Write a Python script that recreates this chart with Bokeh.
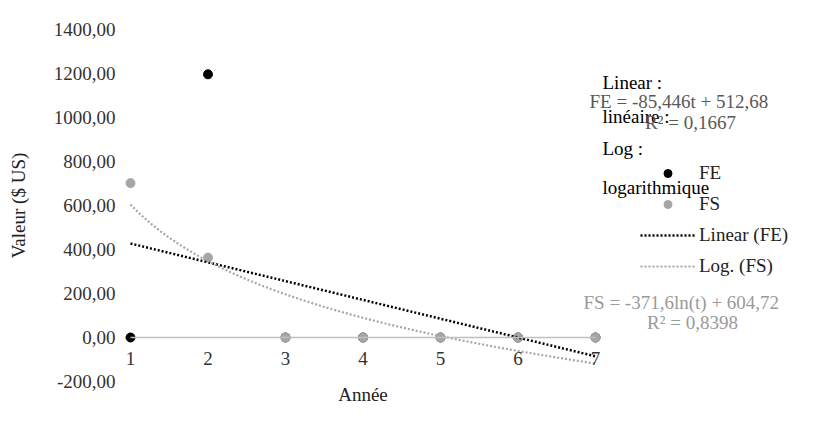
import numpy as np
from bokeh.plotting import figure
from bokeh.models import Label, Legend, LegendItem, FixedTicker, Range1d
from bokeh.embed import file_html
from bokeh.resources import INLINE

# ---- data ----
years = [1, 2, 3, 4, 5, 6, 7]
fe = [0, 1196.25, 0, 0, 0, 0, 0]
fs = [701.8, 363.2, 0, 0, 0, 0, 0]
y_ticks = [-200, 0, 200, 400, 600, 800, 1000, 1200, 1400]
y_tick_labels = ["-200,00", "0,00", "200,00", "400,00", "600,00", "800,00", "1000,00", "1200,00", "1400,00"]
x_tick_labels = ["1", "2", "3", "4", "5", "6", "7"]
series_names = ["FE", "FS", "Linear (FE)", "Log. (FS)"]
fe_eq = "FE = -85,446t + 512,68"
fe_r2 = "R² = 0,1667"
fs_eq = "FS = -371,6ln(t) + 604,72"
fs_r2 = "R² = 0,8398"
x_title = "Année"
y_title = "Valeur ($ US)"

FONT = "Liberation Serif"
FS_PX = "19px"

# trend fits from the data
t = np.array(years, dtype=float)
lin = np.polyfit(t, np.array(fe), 1)
logc = np.polyfit(np.log(t), np.array(fs), 1)
tt = np.linspace(1, 7, 200)
lin_y = lin[0] * tt + lin[1]
log_y = logc[0] * np.log(tt) + logc[1]

# layout: plot area spans whole canvas; data area t=1..7 at px 130..595, y 1400..-200 at px 29..381
W, H = 808, 415
PX_X0, PX_X1 = 130, 595
PX_Y0, PX_Y1 = 29, 381
sx = (years[-1] - years[0]) / (PX_X1 - PX_X0)
sy = (y_ticks[-1] - y_ticks[0]) / (PX_Y1 - PX_Y0)
x_start = years[0] - PX_X0 * sx
x_end = years[0] + (W - PX_X0) * sx
y_end = y_ticks[-1] + PX_Y0 * sy
y_start = y_ticks[0] - (H - PX_Y1) * sy

p = figure(width=W, height=H, output_backend="svg", toolbar_location=None,
           x_range=Range1d(x_start, x_end), y_range=Range1d(y_start, y_end),
           min_border=0)
p.outline_line_color = None
p.xgrid.visible = False
p.ygrid.visible = False
p.background_fill_color = "white"
p.border_fill_color = "white"

# y axis
ya = p.yaxis[0]
ya.fixed_location = years[0]
ya.bounds = (y_ticks[0], y_ticks[-1])
ya.ticker = FixedTicker(ticks=y_ticks)
ya.major_label_overrides = {v: s for v, s in zip(y_ticks, y_tick_labels)}
ya.axis_line_color = None
ya.major_tick_line_color = None
ya.minor_tick_line_color = None
ya.major_tick_out = 0
ya.major_tick_in = 0
ya.major_label_standoff = 15
ya.major_label_text_font = FONT
ya.major_label_text_font_size = FS_PX
ya.major_label_text_color = "#333333"
ya.axis_label = y_title
ya.axis_label_text_font = FONT
ya.axis_label_text_font_size = FS_PX
ya.axis_label_text_font_style = "normal"
ya.axis_label_text_color = "#222222"
ya.axis_label_standoff = 22

# x axis at y=0
xa = p.xaxis[0]
xa.fixed_location = 0
xa.bounds = (years[0], years[-1])
xa.ticker = FixedTicker(ticks=years)
xa.major_label_overrides = {v: s for v, s in zip(years, x_tick_labels)}
xa.axis_line_color = "#bfbfbf"
xa.axis_line_width = 1.5
xa.major_tick_line_color = None
xa.minor_tick_line_color = None
xa.major_tick_out = 0
xa.major_tick_in = 0
xa.major_label_standoff = 14
xa.major_label_text_font = FONT
xa.major_label_text_font_size = FS_PX
xa.major_label_text_color = "#333333"
xa.axis_label = x_title
xa.axis_label_text_font = FONT
xa.axis_label_text_font_size = FS_PX
xa.axis_label_text_font_style = "normal"
xa.axis_label_text_color = "#222222"
xa.axis_label_standoff = 16

r_fe = p.scatter(years, fe, size=9, color="#000000")
r_fs = p.scatter(years, fs, size=9, color="#a6a6a6")
r_lin = p.line(tt, lin_y, line_color="#000000", line_width=2.5, line_dash="2 2")
r_log = p.line(tt, log_y, line_color="#a6a6a6", line_width=2.2, line_dash="2 2")

legend = Legend(items=[
    LegendItem(label=series_names[0], renderers=[r_fe]),
    LegendItem(label=series_names[1], renderers=[r_fs]),
    LegendItem(label=series_names[2], renderers=[r_lin]),
    LegendItem(label=series_names[3], renderers=[r_log]),
], location=(640, H - 277), glyph_width=55, glyph_height=20, spacing=9,
    padding=0, margin=0, label_standoff=4, border_line_color=None,
    background_fill_alpha=0, label_text_font=FONT, label_text_font_size=FS_PX,
    label_text_color="#222222")
p.add_layout(legend)

# frame covers whole canvas: screen units from bottom-left
def lab(text, ix, iy, color="#000000", align="left"):
    p.add_layout(Label(x=ix, y=H - iy, x_units="screen", y_units="screen",
                       text=text, text_font=FONT, text_font_size=FS_PX,
                       text_color=color, text_baseline="middle", text_align=align))

lab("Linear :", 602, 82)
lab(fe_eq, 589, 101, "#595959")
lab("linéaire :", 602, 116)
lab(fe_r2, 690, 122, "#595959", "center")
lab("Log :", 602, 148)
lab("logarithmique", 602, 187)
lab(fs_eq, 583, 302, "#9a9a9a")
lab(fs_r2, 692, 322, "#9a9a9a", "center")

open("out.html", "w").write(file_html(p, INLINE))
